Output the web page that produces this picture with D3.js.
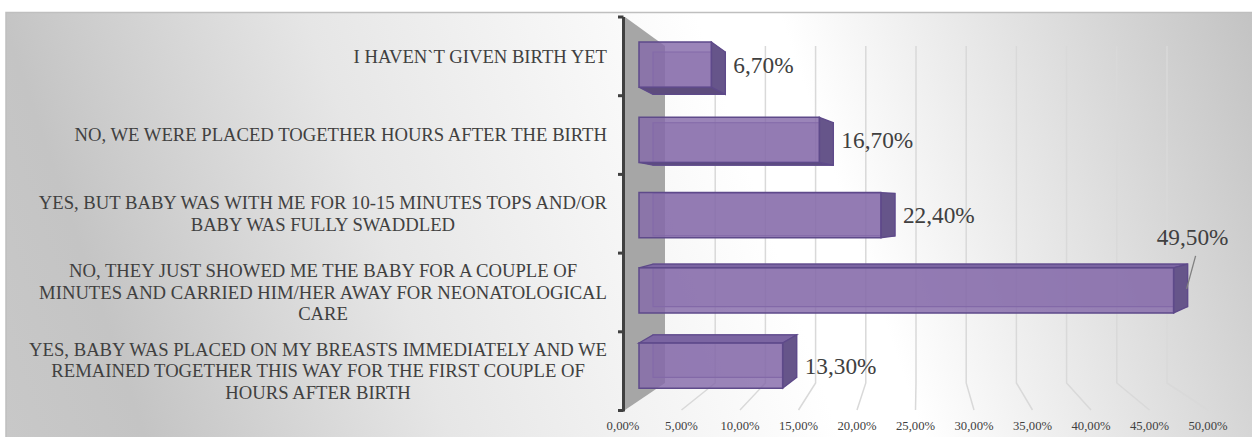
<!DOCTYPE html>
<html>
<head>
<meta charset="utf-8">
<script src="https://cdn.jsdelivr.net/npm/d3@7"></script>
<style>
  html, body { margin: 0; padding: 0; background: #ffffff; }
  svg { display: block; }
</style>
</head>
<body>
<svg id="chart" width="1252" height="437"></svg>
<script>
// ---------- data ----------
const categories = [
  "I HAVEN`T GIVEN BIRTH YET",
  "NO, WE WERE PLACED TOGETHER HOURS AFTER THE BIRTH",
  "YES, BUT BABY WAS WITH ME FOR 10-15 MINUTES TOPS AND/OR\nBABY WAS FULLY SWADDLED",
  "NO, THEY JUST SHOWED ME THE BABY FOR A COUPLE OF\nMINUTES AND CARRIED HIM/HER AWAY FOR NEONATOLOGICAL\nCARE",
  "YES, BABY WAS PLACED ON MY BREASTS IMMEDIATELY AND WE\nREMAINED TOGETHER THIS WAY FOR THE FIRST COUPLE OF\nHOURS AFTER BIRTH"
];
const values = [0.067, 0.167, 0.224, 0.495, 0.133];
const valueLabels = ["6,70%", "16,70%", "22,40%", "49,50%", "13,30%"];
const tickValues = [0, 0.05, 0.10, 0.15, 0.20, 0.25, 0.30, 0.35, 0.40, 0.45, 0.50];
const tickLabels = ["0,00%", "5,00%", "10,00%", "15,00%", "20,00%", "25,00%", "30,00%", "35,00%", "40,00%", "45,00%", "50,00%"];

// ---------- setup ----------
const svg = d3.select("#chart");
const W = 1252, H = 437;
const serif = "'Liberation Serif', 'Times New Roman', serif";
const textColor = "#404040";

const defs = svg.append("defs");
const bg = defs.append("linearGradient").attr("id", "bgGrad")
  .attr("gradientUnits", "userSpaceOnUse")
  .attr("x1", 6).attr("y1", 437).attr("x2", 1252).attr("y2", 12);
[[0, "#c8c8c8"], [0.1, "#c4c4c4"], [0.32, "#e6e6e6"], [0.6, "#ffffff"],
 [0.66, "#ffffff"], [0.82, "#e3e3e3"], [1, "#c3c3c3"]].forEach(([o, c]) =>
  bg.append("stop").attr("offset", o).attr("stop-color", c));

// chart area
svg.append("rect").attr("x", 6).attr("y", 12.5).attr("width", W + 10).attr("height", H + 10)
  .attr("fill", "url(#bgGrad)").attr("stroke", "#bfbfbf").attr("stroke-width", 1.5);

// ---------- scales ----------
const xBack = d3.scaleLinear().domain([0, 0.5]).range([665, 1167]);   // back wall gridlines
const xFront = d3.scaleLinear().domain([0, 0.5]).range([623, 1208]);  // floor front edge / tick labels
const xBar = d3.scaleLinear().domain([0, 0.5]).range([639, 1179]);    // bar front faces
const depthDX = 14;
const slot = d3.scaleBand().domain(categories).range([17, 410.5]);
const yBar = d3.scaleBand().domain(categories).range([27, 403.25]).paddingInner(0.4).paddingOuter(0.2);
const vy = 208, ps = 0.94;
const yBack = y => vy + (y - vy) * ps;

const backTop = 46, backBottom = 383, frontBottom = 410;

// ---------- gridlines ----------
const grid = svg.append("g");
tickValues.filter(v => v > 0).forEach(v => {
  grid.append("path")
    .attr("d", d3.line()([[xBack(v), backTop], [xBack(v), backBottom], [xFront(v), frontBottom]]))
    .attr("fill", "none").attr("stroke", "#d9d9d9").attr("stroke-width", 1.5);
});

// side wall
svg.append("path")
  .attr("d", d3.line()([[625, 17], [xBack(0), backTop], [xBack(0), backBottom], [625, frontBottom]]) + "Z")
  .attr("fill", "#a6a6a6");

// ---------- axis ----------
const axisG = svg.append("g");
axisG.append("line").attr("x1", 623.5).attr("x2", 623.5).attr("y1", 17).attr("y2", 411.5)
  .attr("stroke", "#404040").attr("stroke-width", 3);
const tickYs = categories.map(c => slot(c)).concat([slot.range()[1]]);
tickYs.forEach(y => {
  axisG.append("line").attr("x1", 618).attr("x2", 623.5).attr("y1", y).attr("y2", y)
    .attr("stroke", "#404040").attr("stroke-width", 3);
});

// tick labels
svg.append("g").selectAll("text").data(tickValues).join("text")
  .attr("x", d => xFront(d)).attr("y", 430)
  .attr("text-anchor", "middle")
  .attr("font-family", serif).attr("font-size", "12.7px").attr("fill", textColor)
  .text((d, i) => tickLabels[i]);

// category labels
const lineH = 21.5, labelRight = 607;
categories.forEach(c => {
  const lines = c.split("\n");
  const g = svg.append("g");
  const cy = slot(c) + slot.bandwidth() / 2;
  const first = cy - (lines.length - 1) * lineH / 2 + 6.3;
  const ts = lines.map((l, i) => g.append("text")
    .attr("y", first + i * lineH)
    .attr("text-anchor", "middle")
    .attr("font-family", serif).attr("font-size", "18.67px").attr("fill", textColor)
    .text(l));
  const maxW = d3.max(ts, t => t.node().getComputedTextLength());
  ts.forEach(t => t.attr("x", labelRight - maxW / 2));
});

// ---------- bars ----------
const barsG = svg.append("g");
const edge = "#5e4a8a";
categories.forEach((c, i) => {
  const v = values[i];
  const fx0 = xBar(0), fx1 = xBar(v);
  const fy0 = yBar(c), fy1 = yBar(c) + yBar.bandwidth();
  const bx0 = fx0 + depthDX, bx1 = fx1 + depthDX;
  const by0 = yBack(fy0), by1 = yBack(fy1);
  const g = barsG.append("g");
  const poly = pts => d3.line()(pts) + "Z";
  // back face
  g.append("path").attr("d", poly([[bx0, by0], [bx1, by0], [bx1, by1], [bx0, by1]]))
    .attr("fill", "rgba(128,100,162,0.35)").attr("stroke", "#7a64a3").attr("stroke-width", 1.2);
  // top or bottom face
  if (by0 < fy0) {
    g.append("path").attr("d", poly([[fx0, fy0], [bx0, by0], [bx1, by0], [fx1, fy0]]))
      .attr("fill", "#7b65a2").attr("stroke", edge).attr("stroke-width", 1.3);
  }
  if (by1 > fy1) {
    g.append("path").attr("d", poly([[fx0, fy1], [bx0, by1], [bx1, by1], [fx1, fy1]]))
      .attr("fill", "#5d4c7d").attr("stroke", edge).attr("stroke-width", 1.3);
  }
  // right face
  g.append("path").attr("d", poly([[fx1, fy0], [bx1, by0], [bx1, by1], [fx1, fy1]]))
    .attr("fill", "#66558a").attr("stroke", edge).attr("stroke-width", 1.3);
  // front face
  g.append("path").attr("d", poly([[fx0, fy0], [fx1, fy0], [fx1, fy1], [fx0, fy1]]))
    .attr("fill", "rgba(133,106,170,0.82)").attr("stroke", edge).attr("stroke-width", 1.5);

  // value label
  const t = svg.append("text")
    .attr("font-family", serif).attr("font-size", "23.3px").attr("fill", textColor)
    .text(valueLabels[i]);
  const tw = t.node().getComputedTextLength();
  const lx = bx1 + 8;
  if (lx + tw > W - 10) {
    // place above the bar with a leader line
    t.attr("x", bx1 + 5).attr("y", fy0 - 23).attr("text-anchor", "middle");
    svg.append("line").attr("x1", bx1 + 8).attr("y1", fy0 - 12).attr("x2", bx1 - 1).attr("y2", fy0 + 21)
      .attr("stroke", "#808080").attr("stroke-width", 1.3);
  } else {
    t.attr("x", lx).attr("y", (fy0 + fy1) / 2 + 8);
  }
});
</script>
</body>
</html>
